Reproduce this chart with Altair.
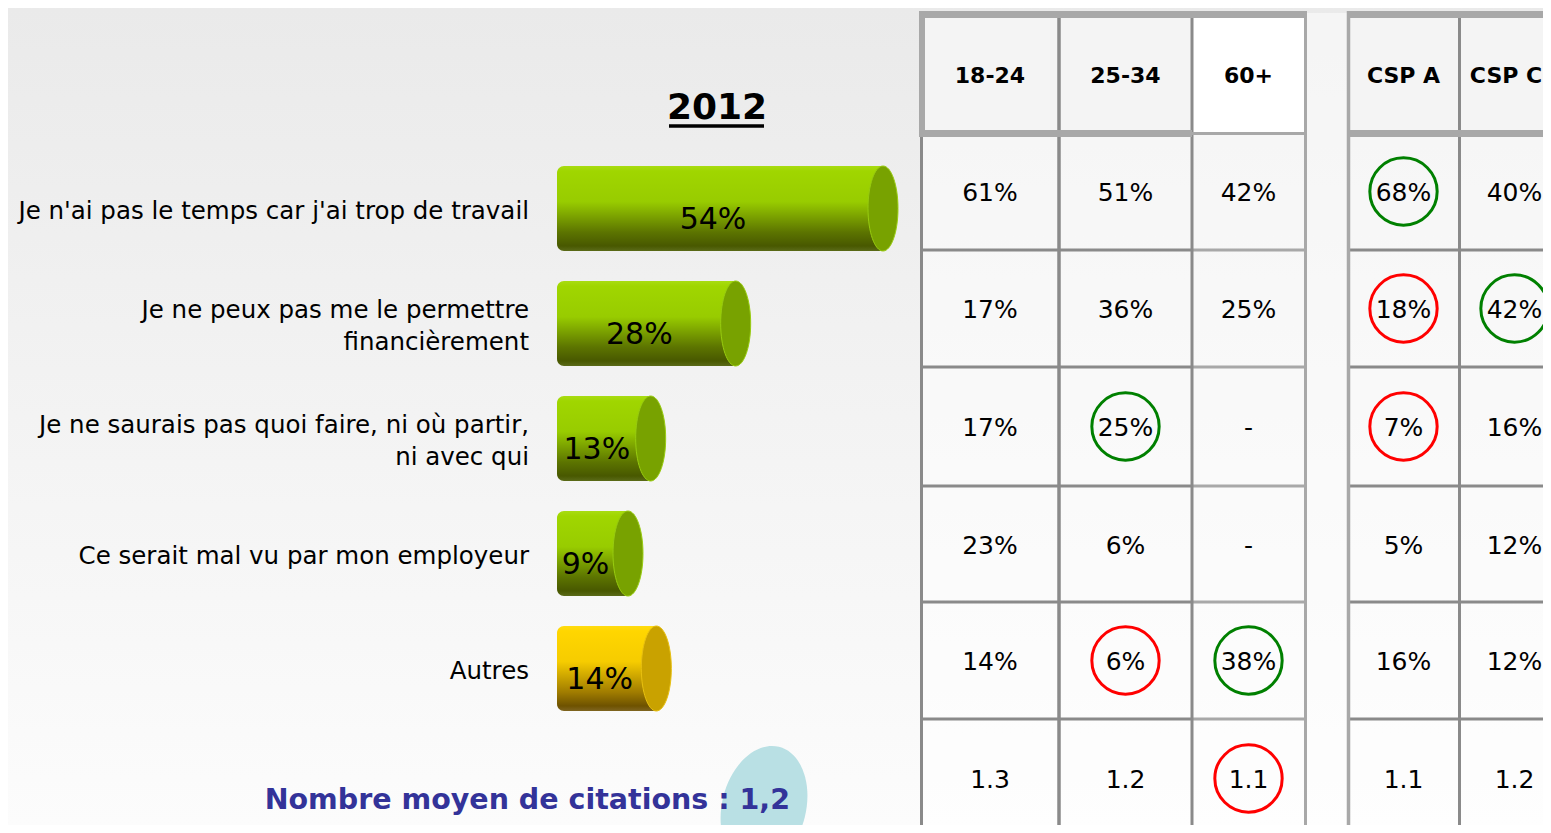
import math
import altair as alt
import pandas as pd

# ---------------- data ----------------
CATEGORIES = [
    "Je n'ai pas le temps car j'ai trop de travail",
    "Je ne peux pas me le permettre\nfinancièrement",
    "Je ne saurais pas quoi faire, ni où partir,\nni avec qui",
    "Ce serait mal vu par mon employeur",
    "Autres",
]
VALUES = [54, 28, 13, 9, 14]
BAR_GROUP = ["main", "main", "main", "main", "other"]

TITLE = "2012"
FOOTNOTE = "Nombre moyen de citations : 1,2"

TABLE_COLUMNS = ["18-24", "25-34", "60+", "CSP A", "CSP C"]
TABLE_VALUES = [
    ["61%", "51%", "42%", "68%", "40%"],
    ["17%", "36%", "25%", "18%", "42%"],
    ["17%", "25%", "-", "7%", "16%"],
    ["23%", "6%", "-", "5%", "12%"],
    ["14%", "6%", "38%", "16%", "12%"],
    ["1.3", "1.2", "1.1", "1.1", "1.2"],
]
HIGHLIGHT_ROW = [0, 1, 1, 2, 2, 4, 4, 5]
HIGHLIGHT_COL = [3, 3, 4, 1, 3, 1, 2, 2]
HIGHLIGHT_SIGN = ["+", "-", "+", "+", "-", "-", "+", "-"]

# ---------------- layout ----------------
OFF = 8
W, H = 1535, 817
PX = alt.Scale(domain=[OFF, OFF + W], nice=False, zero=False)
PY = alt.Scale(domain=[OFF, OFF + H], reverse=True, nice=False, zero=False)

FONT = "DejaVu Sans"

BAR_ROW0, BAR_STEP, BAR_H = 208.5, 115, 85
BAR_START = 557                      # left end of the cylinders
CAP_RANGE = [577, 883]               # pixel position of cap centre for 0 and max value
XB = alt.Scale(domain=[0, max(VALUES)], range=[CAP_RANGE[0] - OFF, CAP_RANGE[1] - OFF],
               nice=False, zero=False)
PER = (CAP_RANGE[1] - CAP_RANGE[0]) / max(VALUES)
START_VAL = (BAR_START - CAP_RANGE[0]) / PER
LINE_H = 32

COL_EDGES = [(921, 1059), (1059, 1192), (1192, 1305), (1348, 1459), (1459, 1570)]
HEAD_EDGES = (14, 133)
ROW_EDGES = [133, 250, 367, 486, 602, 719, 838]
HEAD_MAX_X = 1506                    # keep header text inside the visible area


def vx(x):
    return alt.value(x - OFF)


def vy(y):
    return alt.value(y - OFF)


def X(f):
    return alt.X(f, type="quantitative", scale=PX, axis=None)


def Y(f):
    return alt.Y(f, type="quantitative", scale=PY, axis=None)


def ellipse_path(a):
    k = 0.5523
    return (f"M0,-1 C{a*k:.4f},-1 {a:.4f},{-k} {a:.4f},0 C{a:.4f},{k} {a*k:.4f},1 0,1 "
            f"C{-a*k:.4f},1 {-a:.4f},{k} {-a:.4f},0 C{-a:.4f},{-k} {-a*k:.4f},-1 0,-1 Z")


def vgrad(stops):
    return alt.Gradient(gradient="linear", x1=0, x2=0, y1=0, y2=1,
                        stops=[alt.GradientStop(color=c, offset=o) for o, c in stops])


one = pd.DataFrame({"k": [0]})

# background
bg = alt.Chart(one).mark_rect(
    fill=vgrad([(0, "#eaeaea"), (1, "#fcfcfc")])
).encode(x=alt.value(0), x2=alt.value(W), y=alt.value(0), y2=alt.value(H))

# ---------------- bars ----------------
bars = pd.DataFrame({
    "cat": CATEGORIES, "v": VALUES, "group": BAR_GROUP,
})
bars["yc"] = [BAR_ROW0 + BAR_STEP * i for i in range(len(bars))]
bars["y0"] = bars["yc"] - BAR_H / 2
bars["y1"] = bars["yc"] + BAR_H / 2
bars["ly"] = bars["yc"] + 11
bars["lab"] = [f"{v}%" for v in VALUES]
nlines = [c.count("\n") + 1 for c in CATEGORIES]
bars["cy"] = [yc + 3 - LINE_H / 2 * (n - 1) for yc, n in zip(bars["yc"], nlines)]

GREEN_BODY = vgrad([(0, "#a8dc12"), (0.06, "#a0d600"), (0.42, "#98cc00"),
                    (0.78, "#5c7400"), (0.94, "#485800"), (1, "#5a6a18")])
YELLOW_BODY = vgrad([(0, "#ffdc10"), (0.06, "#ffd600"), (0.42, "#f6cc00"),
                     (0.78, "#a07c00"), (0.94, "#6e5200"), (1, "#7e6420")])

CAP = ellipse_path(15 / (BAR_H / 2))

layers = [bg]
for grp, body_fill, cap_fill, cap_rim in [
    ("main", GREEN_BODY, "#78a200", "#98cc10"),
    ("other", YELLOW_BODY, "#c9a200", "#e8c010"),
]:
    base = alt.Chart(bars).transform_filter(alt.datum.group == grp)
    layers.append(
        base.mark_rect(fill=body_fill, cornerRadiusTopLeft=7, cornerRadiusBottomLeft=7).encode(
            x=alt.X("v:Q", scale=XB, axis=None), x2=vx(BAR_START),
            y=Y("y0"), y2=alt.Y2("y1"))
    )
    layers.append(
        base.mark_point(shape=CAP, size=BAR_H ** 2, filled=True, color=cap_fill, opacity=1,
                        stroke=cap_rim, strokeWidth=1).encode(
            x=alt.X("v:Q", scale=XB, axis=None), y=Y("yc"))
    )

layers.append(
    alt.Chart(bars).transform_calculate(mid=f"(datum.v + ({START_VAL}))/2").mark_text(
        font=FONT, fontSize=30, color="#000000", align="center", baseline="middle", dx=-7
    ).encode(x=alt.X("mid:Q", scale=XB, axis=None), y=Y("ly"), text="lab:N")
)

# category labels
layers.append(
    alt.Chart(bars).mark_text(
        font=FONT, fontSize=24.5, color="#000000", align="right", baseline="middle",
        lineBreak="\n", lineHeight=LINE_H
    ).encode(x=vx(529), y=Y("cy"), text="cat:N")
)

# title
layers.append(
    alt.Chart(one).mark_text(text=TITLE, font=FONT, fontSize=36, fontWeight="bold",
                             color="#000000", align="center", baseline="middle"
                             ).encode(x=vx(717), y=vy(108))
)
layers.append(
    alt.Chart(one).mark_rule(color="#000000", strokeWidth=3.5).encode(
        x=vx(669), x2=vx(764), y=vy(126))
)

# footnote ellipse + text
layers.append(
    alt.Chart(one).mark_point(shape=ellipse_path(42 / 62), size=124 ** 2, filled=True,
                              color="#b9e0e4", opacity=1, angle=14
                              ).encode(x=vx(764), y=vy(807))
)
layers.append(
    alt.Chart(one).mark_text(text=FOOTNOTE, font=FONT, fontSize=28.5, fontWeight="bold",
                             color="#333399", align="right", baseline="middle"
                             ).encode(x=vx(790), y=vy(800))
)

# ---------------- table ----------------
cells = []
for j, col in enumerate(TABLE_COLUMNS):
    x1, x2 = COL_EDGES[j]
    cells.append(dict(x1=x1, x2=x2, y1=HEAD_EDGES[0], y2=HEAD_EDGES[1],
                      f="#ffffff" if col == "60+" else "#f4f4f4", o=1.0))
    for i in range(len(TABLE_VALUES)):
        cells.append(dict(x1=x1, x2=x2, y1=ROW_EDGES[i], y2=ROW_EDGES[i + 1], f="#ffffff", o=0.5))
cells.append(dict(x1=1307, x2=1347, y1=13, y2=838, f="#ffffff", o=0.5))
cells = pd.DataFrame(cells)
layers.append(
    alt.Chart(cells).mark_rect().encode(
        x=X("x1"), x2=alt.X2("x2"), y=Y("y1"), y2=alt.Y2("y2"),
        fill=alt.Fill("f:N", scale=None), opacity=alt.Opacity("o:Q", scale=None))
)

DARK, LIGHT = "#8a8a8a", "#a8a8a8"
segs = []


def seg(x1, y1, x2, y2, c, w):
    segs.append(dict(x1=x1, y1=y1, x2=x2, y2=y2, c=c, w=w))


for y in ROW_EDGES[1:-1]:
    seg(921, y, 1192, y, DARK, 3)
    seg(1192, y, 1305, y, LIGHT, 3)
    seg(1348, y, 1560, y, DARK, 3)
seg(921.5, 133, 921.5, 838, DARK, 3)
seg(1059, 11, 1059, 838, DARK, 3.5)
seg(1192, 11, 1192, 838, DARK, 3)
seg(1305.5, 11, 1305.5, 838, LIGHT, 3)
seg(1348.5, 11, 1348.5, 838, LIGHT, 3.5)
seg(1459.5, 11, 1459.5, 838, DARK, 3)
# header frame
seg(919, 14.5, 1307, 14.5, LIGHT, 7)
seg(1347, 14.5, 1560, 14.5, LIGHT, 7)
seg(922, 11, 922, 137, LIGHT, 6)
seg(919, 133.5, 1192, 133.5, LIGHT, 7)
seg(1192, 133.5, 1307, 133.5, LIGHT, 3)
seg(1347, 133.5, 1560, 133.5, LIGHT, 7)
segs = pd.DataFrame(segs)
layers.append(
    alt.Chart(segs).mark_rule().encode(
        x=X("x1"), x2=alt.X2("x2"), y=Y("y1"), y2=alt.Y2("y2"),
        color=alt.Color("c:N", scale=None), strokeWidth=alt.StrokeWidth("w:Q", scale=None))
)

centers_x = [(a + b) / 2 for a, b in COL_EDGES]
centers_y = [(ROW_EDGES[i] + ROW_EDGES[i + 1]) / 2 + 1.5 for i in range(len(TABLE_VALUES))]

head = pd.DataFrame({"x": [min(c, HEAD_MAX_X) for c in centers_x],
                     "y": [(HEAD_EDGES[0] + HEAD_EDGES[1]) / 2 + 2] * 5,
                     "t": TABLE_COLUMNS})
layers.append(
    alt.Chart(head).mark_text(font=FONT, fontSize=22, fontWeight="bold", color="#000000",
                              align="center", baseline="middle").encode(
        x=X("x"), y=Y("y"), text="t:N")
)

body = pd.DataFrame([
    dict(x=centers_x[j], y=centers_y[i], t=TABLE_VALUES[i][j])
    for i in range(len(TABLE_VALUES)) for j in range(len(TABLE_COLUMNS))
])
layers.append(
    alt.Chart(body).mark_text(font=FONT, fontSize=25, color="#000000",
                              align="center", baseline="middle").encode(
        x=X("x"), y=Y("y"), text="t:N")
)

circ = pd.DataFrame({
    "x": [centers_x[c] for c in HIGHLIGHT_COL],
    "y": [centers_y[r] - 1.5 for r in HIGHLIGHT_ROW],
    "s": HIGHLIGHT_SIGN,
})
layers.append(
    alt.Chart(circ).mark_point(shape="circle", size=math.pi * 38 ** 2, filled=False,
                               strokeWidth=3, opacity=1).encode(
        x=X("x"), y=Y("y"),
        color=alt.Color("s:N", scale=alt.Scale(domain=["+", "-"], range=["#008000", "#ff0000"]),
                        legend=None))
)

chart = alt.layer(*layers).resolve_scale(x="independent").properties(
    width=W, height=H, padding=0, autosize="none", background="#ececec"
).configure_view(stroke=None)

chart.save("out.html", embed_options={"renderer": "svg", "actions": False})
